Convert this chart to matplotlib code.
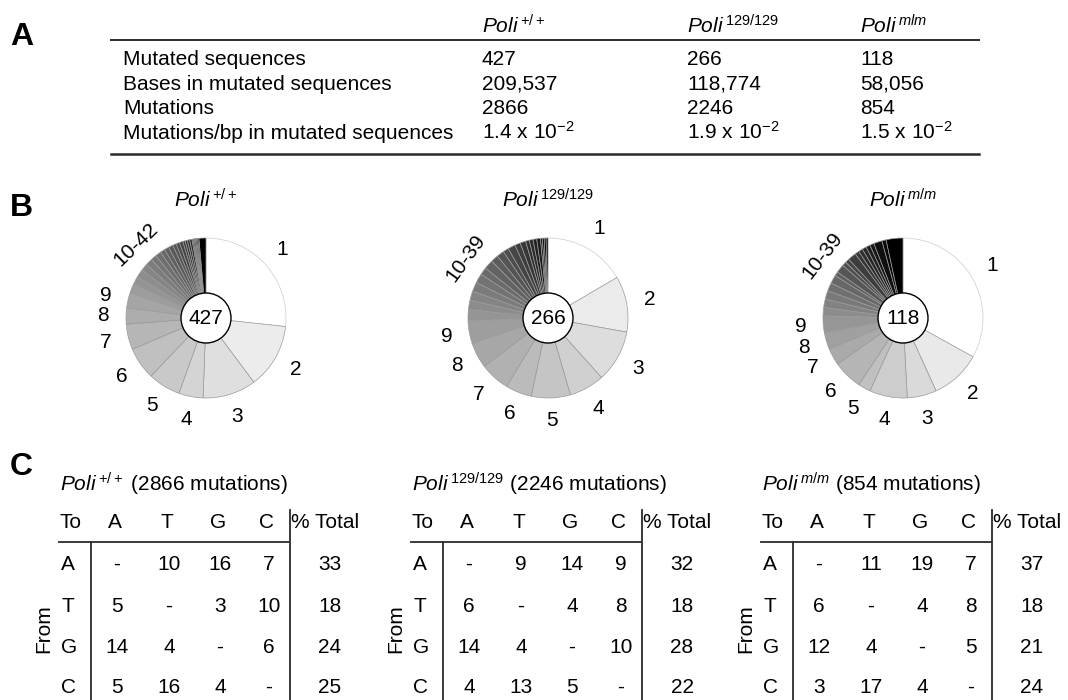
import numpy as np
import matplotlib
matplotlib.use('Agg')
from matplotlib import pyplot as plt
from matplotlib.patches import Circle

plt.rcParams['font.family'] = ['Liberation Sans', 'DejaVu Sans']
plt.rcParams['mathtext.fontset'] = 'custom'
plt.rcParams['mathtext.rm'] = 'Liberation Sans'
plt.rcParams['mathtext.it'] = 'Liberation Sans:italic'
plt.rcParams['mathtext.bf'] = 'Liberation Sans:bold'

# ---- data ----
# panel A
row_names = ['Mutated sequences', 'Bases in mutated sequences',
             'Mutations', 'Mutations/bp in mutated sequences']
geno_a = ['+/+', '129/129', 'mlm']
mutated_seqs = [427, 266, 118]
bases_mutated = [209537, 118774, 58056]
mutations = [2866, 2246, 854]
mut_per_bp = [1.4, 1.9, 1.5]

# panel B: number of sequences carrying 1, 2, 3, ... mutations
geno_b = ['+/+', '129/129', 'm/m']
pie_wt = [114, 56, 46, 21, 28, 28, 22, 14, 13,
          8, 7, 7, 6, 6, 5, 5, 4, 4, 4, 3, 3, 3, 2, 2, 2, 2, 1, 1, 1, 1, 1, 1, 6]
pie_129 = [44, 30, 28, 19, 21, 14, 16, 14, 12,
           6, 5, 5, 5, 5, 4, 5, 4, 4, 3, 4, 3, 3, 2, 2, 2, 2, 1, 1, 1, 1]
pie_mm = [39, 12, 7, 9, 3, 7, 4, 4, 4,
          2, 2, 2, 2, 2, 1, 2, 1, 1, 2, 1, 1, 1, 1, 1, 2, 1, 4]
group_labels = ['10-42', '10-39', '10-39']

# panel C: % of substitutions, rows = From, cols = To
bases = ['A', 'T', 'G', 'C']
sub_wt = [[None, 10, 16, 7], [5, None, 3, 10], [14, 4, None, 6], [5, 16, 4, None]]
sub_129 = [[None, 9, 14, 9], [6, None, 4, 8], [14, 4, None, 10], [4, 13, 5, None]]
sub_mm = [[None, 11, 19, 7], [6, None, 4, 8], [12, 4, None, 5], [3, 17, 4, None]]
total_wt = [33, 18, 24, 25]
total_129 = [32, 18, 28, 22]
total_mm = [37, 18, 21, 24]

W, H = 1068, 700
fig = plt.figure(figsize=(W / 100, H / 100), dpi=100)
ax = fig.add_axes([0, 0, 1, 1])
ax.set_xlim(0, W)
ax.set_ylim(H, 0)
ax.axis('off')

LINE = '#2b2b2b'
FS = 15


def poli(sup):
    return r'$\mathit{Poli}^{\,\mathit{' + sup + '}}$'


# ---- panel A ----
ax.text(10, 45, 'A', fontsize=23, fontweight='bold')
col_x = [482, 687, 860]
for x, g in zip(col_x, geno_a):
    ax.text(x, 33, poli(g), fontsize=FS)
ax.plot([111, 979], [40, 40], color=LINE, lw=1.4)
ax.plot([111, 979], [154, 154], color=LINE, lw=1.8)
row_y = [65, 90, 114, 139]
for y, name in zip(row_y, row_names):
    ax.text(123, y, name, fontsize=FS)
for i, x in enumerate(col_x):
    ax.text(x, row_y[0], str(mutated_seqs[i]), fontsize=FS)
    ax.text(x, row_y[1], f'{bases_mutated[i]:,}', fontsize=FS)
    ax.text(x, row_y[2], str(mutations[i]), fontsize=FS)
    ax.text(x, row_y[3], f'{mut_per_bp[i]} x 10' + r'$^{-2}$', fontsize=FS)

# ---- panel B ----
ax.text(10, 216, 'B', fontsize=23, fontweight='bold')
pie_centers = [(206, 318), (548, 318), (903, 318)]
R = 130
for (cx, cy), counts, g, glab in zip(pie_centers, [pie_wt, pie_129, pie_mm],
                                     geno_b, group_labels):
    ax.text(cx, 207, poli(g), fontsize=FS, ha='center')
    pax = fig.add_axes([(cx - R) / W, (H - cy - R) / H, 2 * R / W, 2 * R / H])
    n = len(counts)
    grays = [str(1 - (i / (n - 1)) ** 0.75) for i in range(n)]
    wedges, _ = pax.pie(counts, radius=80, startangle=90, counterclock=False,
                        colors=grays,
                        wedgeprops=dict(width=56, edgecolor='#9a9a9a', linewidth=0.5))
    wedges[0].set_edgecolor('#cccccc')
    pax.set_xlim(-R, R)
    pax.set_ylim(-R, R)
    pax.add_patch(Circle((0, 0), 25, facecolor='white', edgecolor='black',
                         lw=1, zorder=5))
    pax.text(0, 0, str(sum(counts)), ha='center', va='center', fontsize=FS,
             zorder=6)
    for i in range(9):
        th = np.deg2rad((wedges[i].theta1 + wedges[i].theta2) / 2)
        pax.text(103 * np.cos(th), 103 * np.sin(th), str(i + 1), fontsize=FS,
                 ha='center', va='center')
    lo = min(w.theta1 for w in wedges[9:])
    hi = max(w.theta2 for w in wedges[9:])
    mid = (lo + hi) / 2 + 8
    th = np.deg2rad(mid)
    pax.text(102 * np.cos(th), 102 * np.sin(th), glab, fontsize=FS,
             ha='center', va='center', rotation=mid - 90)
    pax.axis('off')

# ---- panel C ----
ax.text(10, 475, 'C', fontsize=23, fontweight='bold')
tables = [(60, sub_wt, total_wt, '+/+', 2866),
          (412, sub_129, total_129, '129/129', 2246),
          (762, sub_mm, total_mm, 'm/m', 854)]
col_off = [55, 107, 158, 207]
row_base = [570, 612, 653, 693]
for x0, mat, tot, g, nmut in tables:
    ax.text(x0, 491, poli(g) + f' ({nmut} mutations)', fontsize=FS)
    ax.text(x0, 528, 'To', fontsize=FS)
    for b, off in zip(bases, col_off):
        ax.text(x0 + off, 528, b, fontsize=FS, ha='center')
    ax.text(x0 + 231, 528, '% Total', fontsize=FS)
    ax.plot([x0 - 1, x0 + 229], [542, 542], color=LINE, lw=1.3)
    ax.plot([x0 + 230, x0 + 230], [510, 700], color=LINE, lw=1.3)
    ax.plot([x0 + 31, x0 + 31], [542, 700], color=LINE, lw=1.3)
    ax.text(x0 - 16, 629, 'From', fontsize=FS, rotation=90,
            ha='center', va='center')
    for r, (b, y) in enumerate(zip(bases, row_base)):
        ax.text(x0 + 1, y, b, fontsize=FS)
        for c, off in enumerate(col_off):
            v = mat[r][c]
            ax.text(x0 + off + 2, y, '-' if v is None else str(v),
                    fontsize=FS, ha='center')
        ax.text(x0 + 270, y, str(tot[r]), fontsize=FS, ha='center')

fig.savefig('out.png', dpi=100)
